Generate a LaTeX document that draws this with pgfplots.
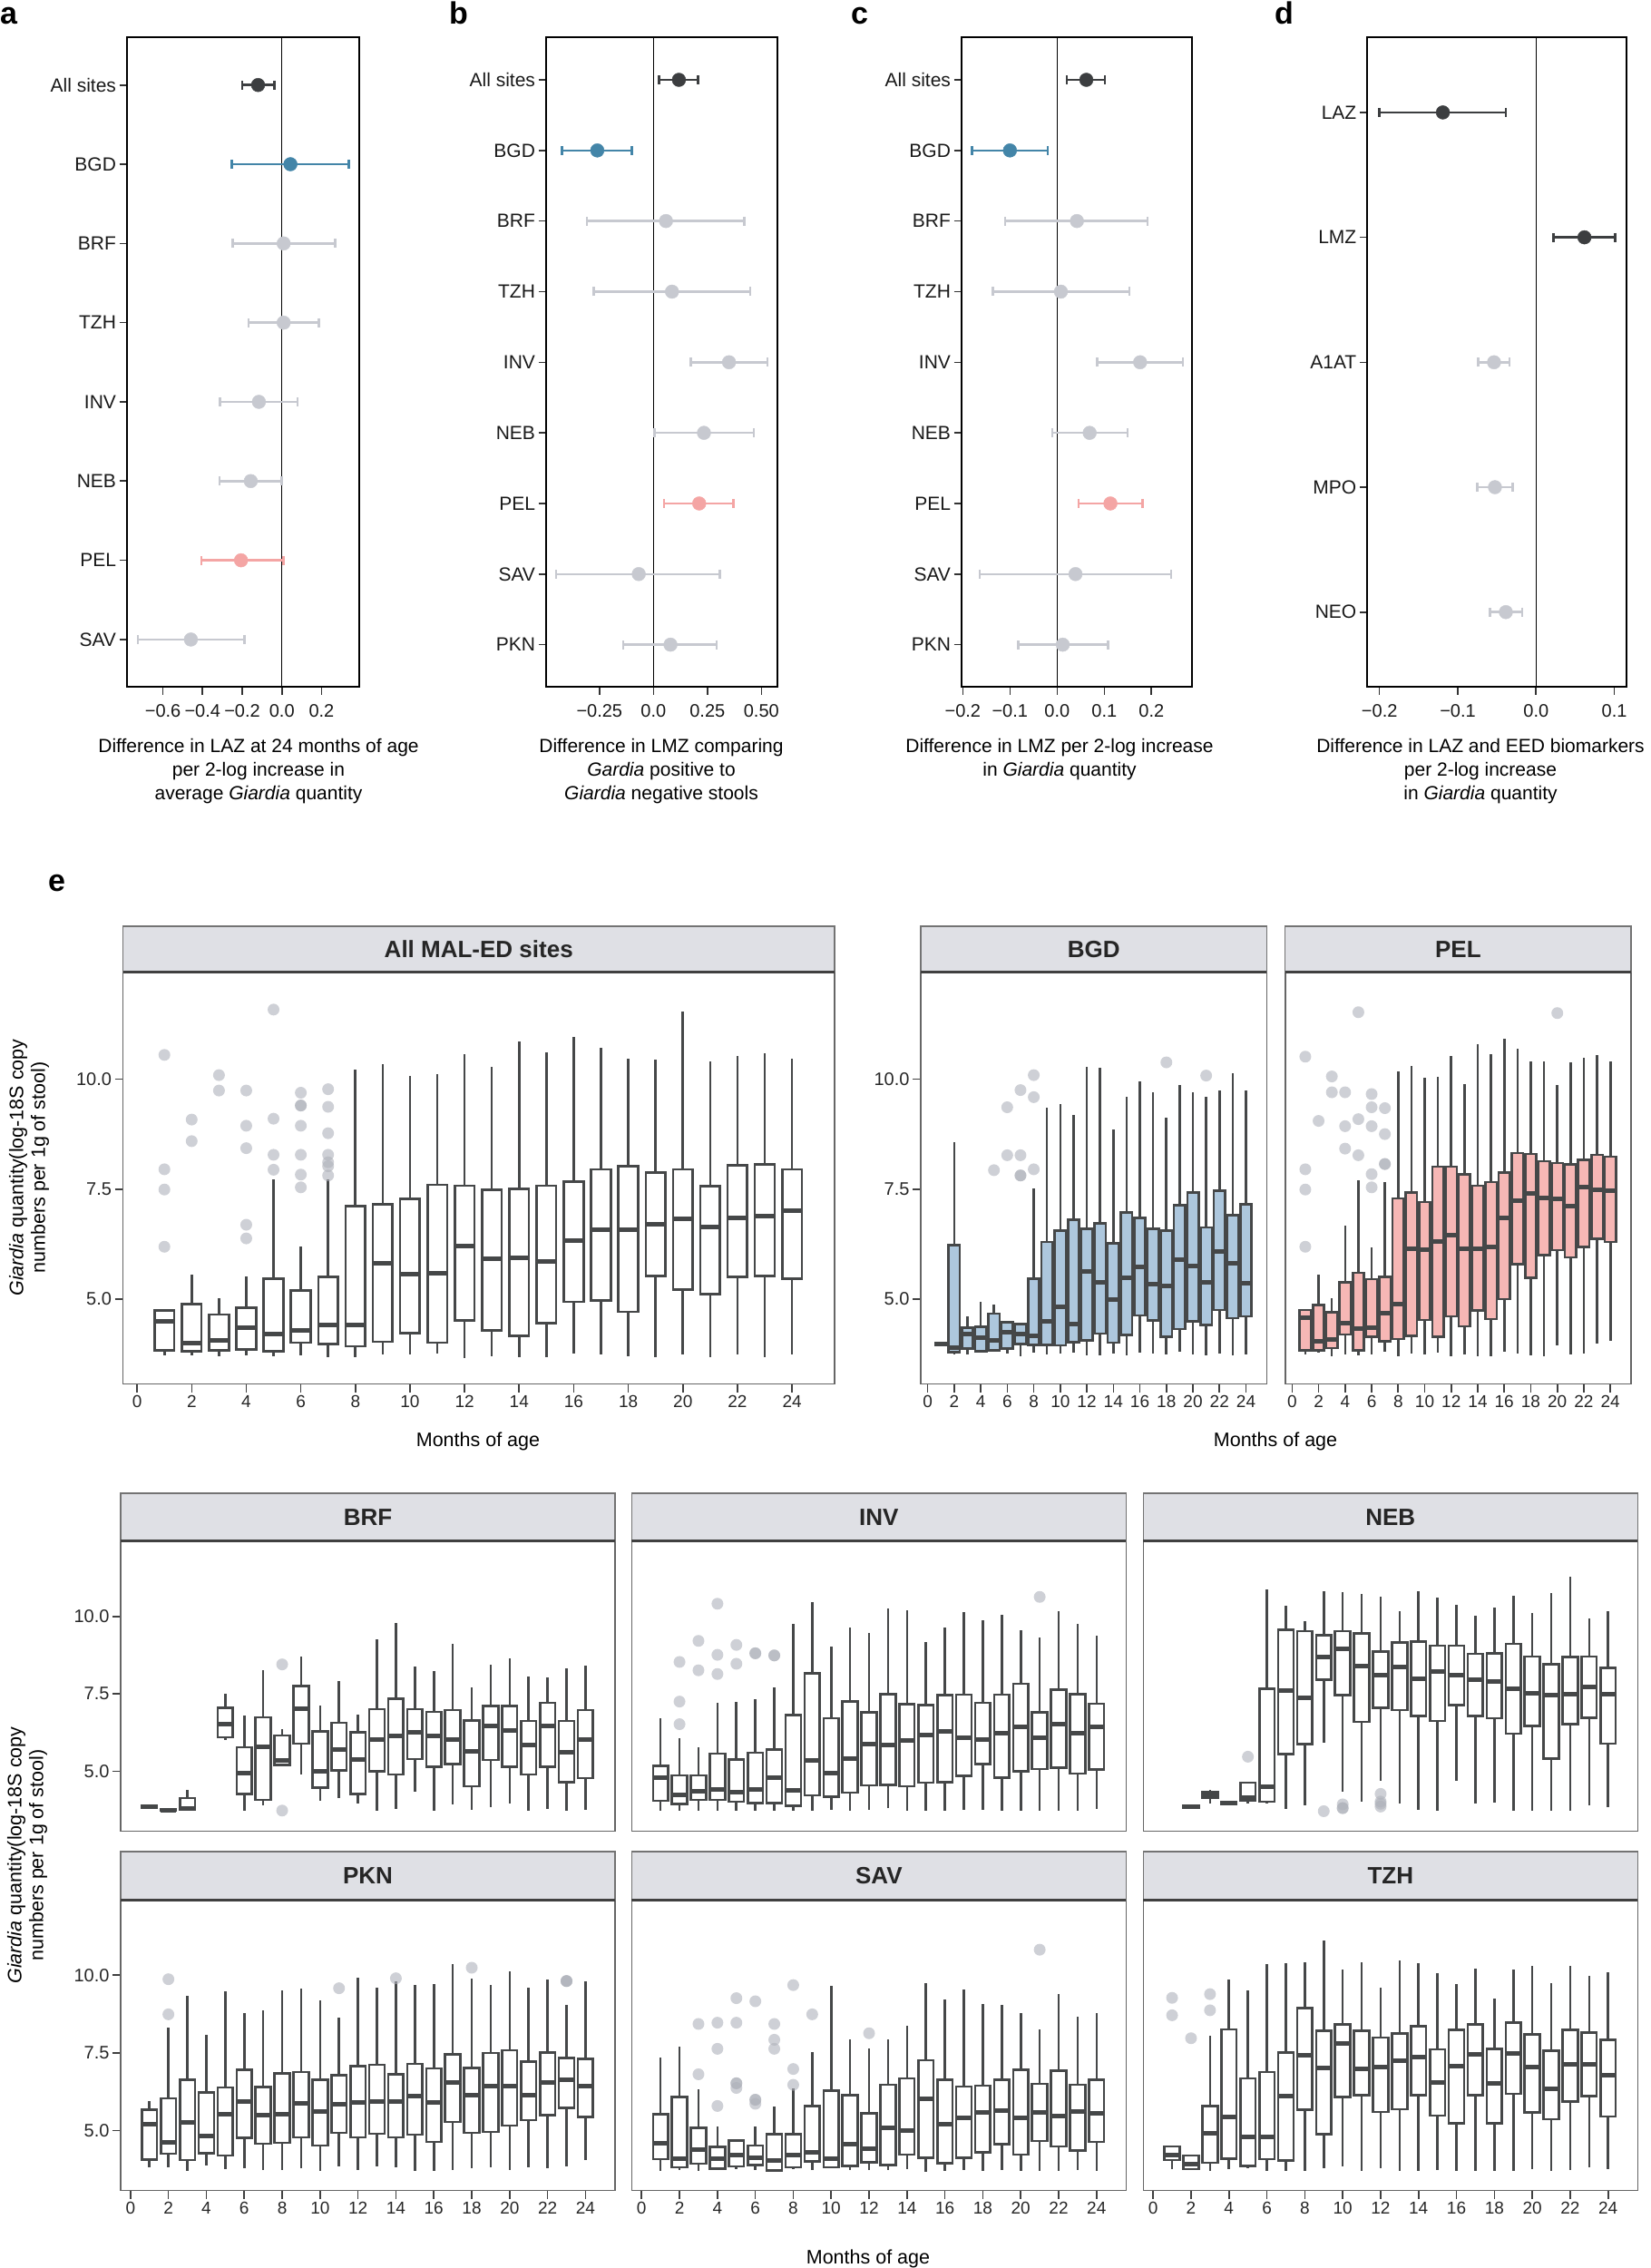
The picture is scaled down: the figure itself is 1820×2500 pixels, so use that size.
\documentclass[border=0pt]{standalone}
\usepackage{fontspec}
\setmainfont{Liberation Sans}
\usepackage{pgfplots}
\pgfplotsset{compat=1.18}
\usepgfplotslibrary{statistics}

\definecolor{dk}{HTML}{3C3E40}
\definecolor{bl}{HTML}{4385A8}
\definecolor{gr}{HTML}{C7C9D0}
\definecolor{pk}{HTML}{F4A5A4}
\definecolor{boxc}{HTML}{454748}
\definecolor{bgdf}{HTML}{ADC7DD}
\definecolor{pelf}{HTML}{F6B7B5}
\definecolor{outc}{HTML}{AEB1BA}
\definecolor{stripc}{HTML}{DFE0E5}
\colorlet{bxf}{white}

\newcommand\fs[1]{\fontsize{#1}{#1}\selectfont}
\def\bxw{0.72}
% one prepared box: position, lower whisker, q1, median, q3, upper whisker
\newcommand\BX[6]{\addplot[draw=boxc, fill=bxf, line width=2.6pt,
  boxplot prepared={draw direction=y, draw position=#1, lower whisker=#2, lower quartile=#3,
  median=#4, upper quartile=#5, upper whisker=#6, box extend=\bxw, whisker extend=0}] coordinates {};}
\newcommand\OL[1]{\addplot[only marks, color=outc, mark=*, mark size=6.5pt,
  mark options={draw opacity=0, fill=outc, fill opacity=0.6}] coordinates {#1};}
\newcommand\strip[5]{%
  \draw[fill=stripc, draw=black!55, line width=1.4pt] (#1,-#3) rectangle (#2,-#4);
  \draw[black!75, line width=3pt] (#1,-#4) -- (#2,-#4);
  \node[font=\bfseries\fs{26}, text=black!85] at ({(#1+#2)/2},{-(#3+#4)/2}) {#5};}

\pgfplotsset{
  forest/.style={
    scale only axis, anchor=north west, height=716pt,
    y dir=reverse, axis line style={line width=1.8pt, draw=black},
    tick align=outside, major tick length=8.5pt,
    tick style={line width=1.6pt, draw=black!80},
    xtick pos=left, ytick pos=left,
    xticklabel style={font=\fs{20}, text=black!90, yshift=-7pt},
    yticklabel style={font=\fs{21}, text=black!90},
    clip=false,
  },
  fpt/.style={only marks, mark=*, mark size=7.5pt, color=#1,
    mark options={draw=none, fill=#1},
    error bars/.cd, x dir=both, x explicit, error mark=|,
    error bar style={line width=2.5pt, color=#1},
    error mark options={mark size=5pt, line width=2.5pt, color=#1}},
  boxax/.style={
    scale only axis, anchor=north west,
    xmin=-0.52, xmax=25.56, ymin=3.07, ymax=12.43,
    axis line style={draw=black!60, line width=1.6pt},
    tick align=outside, major tick length=9pt,
    tick style={draw=black!75, line width=1.6pt},
    xtick pos=left, ytick pos=left,
    xtick={0,2,...,24}, xticklabels={0,2,4,6,8,10,12,14,16,18,20,22,24},
    ytick={5,7.5,10}, yticklabels={5.0,7.5,10.0},
    xticklabel style={font=\fs{19}, text=black!85},
    yticklabel style={font=\fs{20}, text=black!85},
    boxplot/every median/.style={line width=5pt},
  },
}

\begin{document}
\begin{tikzpicture}[x=1pt,y=1pt]
\useasboundingbox (0,0) rectangle (1820,-2500);

% ---------------- panel letters
\node[font=\bfseries\fs{34}, anchor=base west, inner sep=0] at (0,-26) {a};
\node[font=\bfseries\fs{34}, anchor=base west, inner sep=0] at (495,-27) {b};
\node[font=\bfseries\fs{34}, anchor=base west, inner sep=0] at (938,-27) {c};
\node[font=\bfseries\fs{34}, anchor=base west, inner sep=0] at (1405,-27) {d};
\node[font=\bfseries\fs{34}, anchor=base west, inner sep=0] at (53,-982) {e};

% ---------------- a
\begin{axis}[forest, at={(140pt,-41.3pt)}, width=256pt,
  xmin=-0.781, xmax=0.39, ymin=0.4, ymax=8.6,
  xtick={-0.6,-0.4,-0.2,0,0.2}, xticklabels={−0.6,−0.4,−0.2,0.0,0.2},
  ytick={1,...,8}, yticklabels={All sites,BGD,BRF,TZH,INV,NEB,PEL,SAV}]
\addplot[black, line width=1.3pt] coordinates {(0,0.4) (0,8.6)};
\addplot[fpt=gr] table[x=x, y=y, x error plus expr=\thisrow{hi}-\thisrow{x}, x error minus expr=\thisrow{x}-\thisrow{lo}] {
x y lo hi
0.009 3 -0.247 0.268
0.009 4 -0.168 0.187
-0.116 5 -0.311 0.080
-0.157 6 -0.314 0.0
-0.459 8 -0.727 -0.189
};
\addplot[fpt=pk] table[x=x, y=y, x error plus expr=\thisrow{hi}-\thisrow{x}, x error minus expr=\thisrow{x}-\thisrow{lo}] {
x y lo hi
-0.206 7 -0.405 0.009
};
\addplot[fpt=bl] table[x=x, y=y, x error plus expr=\thisrow{hi}-\thisrow{x}, x error minus expr=\thisrow{x}-\thisrow{lo}] {
x y lo hi
0.043 2 -0.253 0.337
};
\addplot[fpt=dk] table[x=x, y=y, x error plus expr=\thisrow{hi}-\thisrow{x}, x error minus expr=\thisrow{x}-\thisrow{lo}] {
x y lo hi
-0.12 1 -0.201 -0.037
};
\end{axis}

% ---------------- b
\begin{axis}[forest, at={(602pt,-41.3pt)}, width=254.7pt,
  xmin=-0.497, xmax=0.573, ymin=0.4, ymax=9.6,
  xtick={-0.25,0,0.25,0.5}, xticklabels={−0.25,0.0,0.25,0.50},
  ytick={1,...,9}, yticklabels={All sites,BGD,BRF,TZH,INV,NEB,PEL,SAV,PKN}]
\addplot[black, line width=1.3pt] coordinates {(0,0.4) (0,9.6)};
\addplot[fpt=gr] table[x=x, y=y, x error plus expr=\thisrow{hi}-\thisrow{x}, x error minus expr=\thisrow{x}-\thisrow{lo}] {
x y lo hi
0.058 3 -0.308 0.42
0.086 4 -0.277 0.448
0.35 5 0.172 0.528
0.234 6 0.006 0.464
-0.068 8 -0.45 0.308
0.079 9 -0.139 0.293
};
\addplot[fpt=pk] table[x=x, y=y, x error plus expr=\thisrow{hi}-\thisrow{x}, x error minus expr=\thisrow{x}-\thisrow{lo}] {
x y lo hi
0.212 7 0.049 0.371
};
\addplot[fpt=bl] table[x=x, y=y, x error plus expr=\thisrow{hi}-\thisrow{x}, x error minus expr=\thisrow{x}-\thisrow{lo}] {
x y lo hi
-0.26 2 -0.424 -0.099
};
\addplot[fpt=dk] table[x=x, y=y, x error plus expr=\thisrow{hi}-\thisrow{x}, x error minus expr=\thisrow{x}-\thisrow{lo}] {
x y lo hi
0.118 1 0.027 0.206
};
\end{axis}

% ---------------- c
\begin{axis}[forest, at={(1060pt,-41.3pt)}, width=254pt,
  xmin=-0.2025, xmax=0.286, ymin=0.4, ymax=9.6,
  xtick={-0.2,-0.1,0,0.1,0.2}, xticklabels={−0.2,−0.1,0.0,0.1,0.2},
  ytick={1,...,9}, yticklabels={All sites,BGD,BRF,TZH,INV,NEB,PEL,SAV,PKN}]
\addplot[black, line width=1.3pt] coordinates {(0,0.4) (0,9.6)};
\addplot[fpt=gr] table[x=x, y=y, x error plus expr=\thisrow{hi}-\thisrow{x}, x error minus expr=\thisrow{x}-\thisrow{lo}] {
x y lo hi
0.042 3 -0.11 0.192
0.008 4 -0.136 0.153
0.176 5 0.085 0.267
0.069 6 -0.01 0.149
0.039 8 -0.164 0.242
0.012 9 -0.082 0.108
};
\addplot[fpt=pk] table[x=x, y=y, x error plus expr=\thisrow{hi}-\thisrow{x}, x error minus expr=\thisrow{x}-\thisrow{lo}] {
x y lo hi
0.113 7 0.046 0.181
};
\addplot[fpt=bl] table[x=x, y=y, x error plus expr=\thisrow{hi}-\thisrow{x}, x error minus expr=\thisrow{x}-\thisrow{lo}] {
x y lo hi
-0.1 2 -0.18 -0.02
};
\addplot[fpt=dk] table[x=x, y=y, x error plus expr=\thisrow{hi}-\thisrow{x}, x error minus expr=\thisrow{x}-\thisrow{lo}] {
x y lo hi
0.062 1 0.021 0.101
};
\end{axis}

% ---------------- d
\begin{axis}[forest, at={(1507.3pt,-41.3pt)}, width=286pt,
  xmin=-0.2155, xmax=0.1159, ymin=0.4, ymax=5.6,
  xtick={-0.2,-0.1,0,0.1}, xticklabels={−0.2,−0.1,0.0,0.1},
  ytick={1,...,5}, yticklabels={LAZ,LMZ,A1AT,MPO,NEO}]
\addplot[black, line width=1.3pt] coordinates {(0,0.4) (0,5.6)};
\addplot[fpt=gr] table[x=x, y=y, x error plus expr=\thisrow{hi}-\thisrow{x}, x error minus expr=\thisrow{x}-\thisrow{lo}] {
x y lo hi
-0.0537 3 -0.074 -0.034
-0.0525 4 -0.0749 -0.030
-0.0386 5 -0.0587 -0.0177
};
\addplot[fpt=dk] table[x=x, y=y, x error plus expr=\thisrow{hi}-\thisrow{x}, x error minus expr=\thisrow{x}-\thisrow{lo}] {
x y lo hi
-0.119 1 -0.2 -0.0386
0.0618 2 0.022 0.1008
};
\end{axis}

% forest axis titles
\begin{scope}[every node/.style={font=\fs{21}, anchor=base, inner sep=0}]
\node at (285,-829) {Difference in LAZ at 24 months of age};
\node at (285,-855) {per 2-log increase in};
\node at (285,-881) {average \textit{Giardia} quantity};
\node at (729,-829) {Difference in LMZ comparing};
\node at (729,-855) {\textit{Gardia} positive to};
\node at (729,-881) {\textit{Giardia} negative stools};
\node at (1168,-829) {Difference in LMZ per 2-log increase};
\node at (1168,-855) {in \textit{Giardia} quantity};
\node at (1632,-829) {Difference in LAZ and EED biomarkers};
\node at (1632,-855) {per 2-log increase};
\node at (1632,-881) {in \textit{Giardia} quantity};
\end{scope}

% ---------------- e: All MAL-ED sites
\colorlet{bxf}{white}\def\bxw{0.72}
\begin{axis}[boxax, at={(135.5pt,-1071.6pt)}, width=784.5pt, height=454pt]
\OL{(1,10.55)(1,7.95)(1,7.49)(1,6.19)(2,9.08)(2,8.59)(3,10.09)(3,9.74)(4,9.74)(4,8.94)(4,8.43)(4,6.69)(4,6.38)(5,11.58)(5,9.10)(5,8.28)(5,7.94)(6,9.69)(6,9.40)(6,9.40)(6,8.94)(6,8.28)(6,7.83)(6,7.54)(7,9.77)(7,9.37)(7,8.77)(7,8.28)(7,8.11)(7,8.02)(7,7.81)}
\BX{1}{3.72}{3.83}{4.50}{4.74}{4.74}
\BX{2}{3.72}{3.81}{3.99}{4.89}{5.55}
\BX{3}{3.71}{3.83}{4.06}{4.65}{5.02}
\BX{4}{3.72}{3.85}{4.36}{4.80}{5.51}
\BX{5}{3.71}{3.81}{4.20}{5.46}{7.73}
\BX{6}{3.72}{4.01}{4.29}{5.19}{6.19}
\BX{7}{3.68}{3.98}{4.41}{5.51}{7.73}
\BX{8}{3.68}{3.93}{4.42}{7.11}{10.21}
\BX{9}{3.74}{4.03}{5.81}{7.16}{10.34}
\BX{10}{3.74}{4.23}{5.56}{7.28}{10.07}
\BX{11}{3.77}{4.01}{5.59}{7.60}{10.11}
\BX{12}{3.66}{4.51}{6.21}{7.58}{10.56}
\BX{13}{3.71}{4.29}{5.91}{7.48}{10.28}
\BX{14}{3.68}{4.16}{5.94}{7.51}{10.85}
\BX{15}{3.68}{4.45}{5.85}{7.58}{10.61}
\BX{16}{3.77}{4.94}{6.32}{7.67}{10.96}
\BX{17}{3.74}{4.97}{6.58}{7.95}{10.72}
\BX{18}{3.71}{4.71}{6.58}{8.02}{10.46}
\BX{19}{3.68}{5.53}{6.70}{7.88}{10.44}
\BX{20}{3.74}{5.22}{6.82}{7.95}{11.53}
\BX{21}{3.68}{5.11}{6.63}{7.57}{10.41}
\BX{22}{3.74}{5.51}{6.85}{8.04}{10.52}
\BX{23}{3.68}{5.52}{6.89}{8.06}{10.59}
\BX{24}{3.74}{5.46}{7.02}{7.95}{10.46}
\end{axis}
\strip{135.5}{920}{1021}{1071.6}{All MAL-ED sites}

% ---------------- BGD
\colorlet{bxf}{bgdf}\def\bxw{0.85}
\begin{axis}[boxax, at={(1015pt,-1071.6pt)}, width=381.3pt, height=454pt]
\OL{(5,7.93)(6,9.36)(6,8.27)(7,9.75)(7,8.27)(7,7.81)(7,7.81)(8,10.09)(8,9.59)(8,7.95)(18,10.38)(21,10.08)}
\BX{1}{3.96}{3.96}{3.98}{4.00}{4.00}
\BX{2}{3.75}{3.79}{3.89}{6.23}{8.57}
\BX{3}{3.75}{3.88}{4.21}{4.35}{4.61}
\BX{4}{3.79}{3.82}{4.12}{4.37}{4.94}
\BX{5}{3.81}{3.84}{4.07}{4.67}{4.87}
\BX{6}{3.77}{3.88}{4.24}{4.48}{4.48}
\BX{7}{3.71}{3.98}{4.20}{4.43}{4.43}
\BX{8}{3.79}{3.96}{4.16}{5.47}{7.52}
\BX{9}{3.75}{3.96}{4.49}{6.30}{9.35}
\BX{10}{3.77}{3.95}{4.82}{6.56}{9.43}
\BX{11}{3.79}{4.02}{4.43}{6.81}{9.18}
\BX{12}{3.73}{4.06}{5.62}{6.60}{10.27}
\BX{13}{3.73}{4.22}{5.39}{6.72}{10.25}
\BX{14}{3.77}{4.01}{5.00}{6.27}{8.85}
\BX{15}{3.73}{4.18}{5.48}{6.97}{9.59}
\BX{16}{3.79}{4.63}{5.74}{6.84}{9.95}
\BX{17}{3.77}{4.52}{5.35}{6.60}{9.70}
\BX{18}{3.75}{4.14}{5.29}{6.56}{9.13}
\BX{19}{3.81}{4.32}{5.90}{7.13}{9.86}
\BX{20}{3.75}{4.49}{5.76}{7.42}{9.70}
\BX{21}{3.73}{4.41}{5.39}{6.63}{9.59}
\BX{22}{3.77}{4.75}{6.09}{7.46}{9.74}
\BX{23}{3.73}{4.57}{5.82}{6.91}{10.13}
\BX{24}{3.75}{4.61}{5.37}{7.15}{9.74}
\end{axis}
\strip{1015}{1396.3}{1021}{1071.6}{BGD}

% ---------------- PEL
\colorlet{bxf}{pelf}
\begin{axis}[boxax, at={(1416.7pt,-1071.6pt)}, width=381.3pt, height=454pt, ytick=\empty]
\OL{(1,10.51)(1,7.95)(1,7.49)(1,6.19)(2,9.05)(3,10.06)(3,9.70)(4,9.70)(4,8.93)(4,8.42)(5,11.52)(5,9.09)(5,8.27)(6,9.66)(6,9.36)(6,8.93)(6,7.84)(6,7.54)(7,9.34)(7,8.75)(7,8.07)(7,8.07)(20,11.50)}
\BX{1}{3.75}{3.84}{4.57}{4.75}{4.75}
\BX{2}{3.79}{3.84}{4.04}{4.86}{5.55}
\BX{3}{3.71}{3.89}{4.09}{4.70}{5.02}
\BX{4}{3.75}{4.20}{4.45}{5.38}{6.68}
\BX{5}{3.73}{3.83}{4.34}{5.60}{7.71}
\BX{6}{3.75}{4.14}{4.35}{5.45}{6.17}
\BX{7}{3.81}{4.04}{4.69}{5.51}{7.66}
\BX{8}{3.71}{4.09}{4.88}{7.29}{10.17}
\BX{9}{3.77}{4.16}{6.15}{7.42}{10.30}
\BX{10}{3.75}{4.53}{6.13}{7.21}{10.04}
\BX{11}{3.79}{4.14}{6.30}{8.01}{10.06}
\BX{12}{3.71}{4.61}{6.45}{8.01}{10.53}
\BX{13}{3.75}{4.38}{6.15}{7.84}{9.88}
\BX{14}{3.71}{4.74}{6.15}{7.58}{10.80}
\BX{15}{3.71}{4.55}{6.19}{7.66}{10.56}
\BX{16}{3.81}{5.00}{6.85}{7.87}{10.91}
\BX{17}{3.77}{5.80}{7.24}{8.32}{10.68}
\BX{18}{3.73}{5.48}{7.40}{8.30}{10.41}
\BX{19}{3.71}{6.00}{7.29}{8.13}{10.41}
\BX{20}{3.95}{6.11}{7.27}{8.09}{9.86}
\BX{21}{3.75}{5.95}{7.11}{8.06}{10.38}
\BX{22}{3.77}{6.19}{7.55}{8.16}{10.49}
\BX{23}{3.98}{6.37}{7.48}{8.28}{10.55}
\BX{24}{4.06}{6.30}{7.46}{8.24}{10.41}
\end{axis}
\strip{1416.7}{1798}{1021}{1071.6}{PEL}

% ---------------- BRF
\colorlet{bxf}{white}\def\bxw{0.8}
\begin{axis}[boxax, at={(133pt,-1698.8pt)}, width=545pt, height=319.5pt, xtick=\empty]
\OL{(8,8.45)(8,3.73)}
\BX{1}{3.83}{3.83}{3.86}{3.89}{3.89}
\BX{2}{3.72}{3.72}{3.74}{3.77}{3.77}
\BX{3}{3.76}{3.76}{3.81}{4.13}{4.39}
\BX{5}{6.01}{6.10}{6.52}{7.05}{7.51}
\BX{6}{3.71}{4.27}{4.95}{5.77}{6.79}
\BX{7}{3.89}{4.08}{5.78}{6.74}{8.26}
\BX{8}{5.21}{5.21}{5.36}{6.15}{6.35}
\BX{9}{4.90}{5.89}{7.02}{7.76}{8.69}
\BX{10}{4.05}{4.47}{4.99}{6.28}{7.13}
\BX{11}{4.12}{5.02}{5.70}{6.57}{7.90}
\BX{12}{3.96}{4.27}{5.38}{6.25}{6.83}
\BX{13}{3.71}{4.99}{6.01}{7.00}{9.25}
\BX{14}{3.79}{4.89}{6.13}{7.34}{9.79}
\BX{15}{4.34}{5.39}{6.25}{7.00}{8.38}
\BX{16}{3.71}{5.14}{6.13}{6.92}{8.24}
\BX{17}{3.93}{5.24}{6.02}{6.98}{9.11}
\BX{18}{3.76}{4.51}{5.65}{6.64}{7.70}
\BX{19}{3.83}{5.36}{6.47}{7.10}{8.45}
\BX{20}{3.96}{5.15}{6.32}{7.10}{8.65}
\BX{21}{3.71}{4.89}{5.84}{6.62}{8.05}
\BX{22}{3.79}{5.15}{6.45}{7.21}{8.02}
\BX{23}{3.71}{4.65}{5.60}{6.63}{8.31}
\BX{24}{3.76}{4.78}{6.02}{6.98}{8.40}
\end{axis}
\strip{133}{678}{1646}{1698.8}{BRF}

% ---------------- INV
\begin{axis}[boxax, at={(696.4pt,-1698.8pt)}, width=545pt, height=319.5pt, xtick=\empty, ytick=\empty]
\OL{(2,8.53)(2,7.25)(2,6.52)(3,9.21)(3,8.26)(4,10.41)(4,8.76)(4,8.14)(5,9.08)(5,8.47)(6,8.81)(6,8.81)(7,8.74)(7,8.74)(21,10.63)}
\BX{1}{3.73}{4.05}{4.78}{5.18}{6.71}
\BX{2}{3.73}{3.94}{4.25}{4.87}{6.06}
\BX{3}{3.71}{4.07}{4.34}{4.87}{5.76}
\BX{4}{3.71}{4.07}{4.41}{5.57}{7.20}
\BX{5}{3.73}{4.02}{4.31}{5.38}{7.24}
\BX{6}{3.71}{3.98}{4.41}{5.60}{7.34}
\BX{7}{3.71}{3.98}{4.78}{5.70}{7.71}
\BX{8}{3.73}{3.89}{4.39}{6.81}{9.76}
\BX{9}{3.71}{4.22}{5.34}{8.16}{10.45}
\BX{10}{3.76}{4.17}{4.95}{6.71}{9.03}
\BX{11}{3.71}{4.31}{5.41}{7.26}{9.64}
\BX{12}{3.76}{4.54}{5.87}{6.91}{9.47}
\BX{13}{3.81}{4.56}{5.84}{7.49}{10.27}
\BX{14}{3.71}{4.52}{5.99}{7.17}{10.19}
\BX{15}{3.73}{4.63}{6.16}{7.13}{9.18}
\BX{16}{3.73}{4.65}{6.28}{7.46}{9.63}
\BX{17}{3.76}{4.85}{6.08}{7.47}{10.15}
\BX{18}{3.76}{5.24}{6.03}{7.21}{9.87}
\BX{19}{3.71}{4.80}{6.23}{7.47}{10.05}
\BX{20}{3.71}{4.99}{6.42}{7.82}{9.56}
\BX{21}{3.73}{5.07}{6.08}{6.91}{9.32}
\BX{22}{3.71}{5.12}{6.52}{7.63}{10.17}
\BX{23}{3.71}{4.92}{6.23}{7.49}{9.76}
\BX{24}{3.79}{5.05}{6.42}{7.18}{9.37}
\end{axis}
\strip{696.4}{1241.4}{1646}{1698.8}{INV}

% ---------------- NEB
\begin{axis}[boxax, at={(1260.3pt,-1698.8pt)}, width=545pt, height=319.5pt, xtick=\empty, ytick=\empty]
\OL{(5,5.47)(9,3.71)(10,3.93)(10,3.81)(10,3.81)(12,4.27)(12,4.02)(12,3.95)(12,3.86)}
\BX{2}{3.83}{3.83}{3.86}{3.89}{3.89}
\BX{3}{3.96}{4.15}{4.25}{4.34}{4.39}
\BX{4}{3.95}{3.95}{3.98}{4.02}{4.02}
\BX{5}{3.96}{4.05}{4.15}{4.63}{4.63}
\BX{6}{3.96}{4.02}{4.49}{7.66}{10.87}
\BX{7}{3.79}{5.55}{7.60}{9.56}{10.34}
\BX{8}{3.91}{5.87}{7.37}{9.52}{9.85}
\BX{9}{5.91}{7.95}{8.69}{9.39}{10.82}
\BX{10}{4.34}{7.46}{8.96}{9.52}{10.77}
\BX{11}{4.02}{6.60}{8.40}{9.45}{10.74}
\BX{12}{4.68}{7.05}{8.09}{8.87}{10.65}
\BX{13}{3.96}{6.98}{8.36}{9.15}{10.16}
\BX{14}{3.76}{6.79}{7.99}{9.18}{10.82}
\BX{15}{3.73}{6.62}{8.21}{9.06}{10.61}
\BX{16}{4.70}{7.13}{8.09}{9.06}{10.37}
\BX{17}{3.96}{6.79}{7.97}{8.79}{10.02}
\BX{18}{3.98}{6.71}{7.89}{8.81}{10.29}
\BX{19}{3.71}{6.21}{7.65}{9.11}{10.66}
\BX{20}{3.71}{6.47}{7.51}{8.71}{10.10}
\BX{21}{3.71}{5.41}{7.46}{8.45}{10.75}
\BX{22}{3.71}{6.52}{7.50}{8.69}{11.28}
\BX{23}{3.89}{6.73}{7.73}{8.71}{9.93}
\BX{24}{3.83}{5.89}{7.50}{8.33}{10.16}
\end{axis}
\strip{1260.3}{1805.3}{1646}{1698.8}{NEB}

% ---------------- PKN
\begin{axis}[boxax, at={(133pt,-2094pt)}, width=545pt, height=320.5pt]
\OL{(2,9.87)(2,8.74)(11,9.58)(14,9.90)(18,10.24)(23,9.81)(23,9.81)(23,9.81)}
\BX{1}{3.81}{4.07}{5.21}{5.67}{5.96}
\BX{2}{3.83}{4.25}{4.63}{6.03}{8.31}
\BX{3}{3.71}{4.05}{5.26}{6.64}{9.34}
\BX{4}{3.86}{4.26}{4.83}{6.23}{8.09}
\BX{5}{3.76}{4.20}{5.52}{6.39}{9.49}
\BX{6}{3.79}{4.76}{5.92}{6.95}{8.77}
\BX{7}{3.74}{4.58}{5.50}{6.40}{8.86}
\BX{8}{3.74}{4.60}{5.52}{6.83}{9.52}
\BX{9}{3.79}{4.78}{5.86}{6.88}{9.56}
\BX{10}{3.71}{4.52}{5.60}{6.63}{9.18}
\BX{11}{3.84}{4.92}{5.84}{6.78}{8.62}
\BX{12}{3.74}{4.78}{5.89}{7.08}{9.92}
\BX{13}{3.84}{4.90}{5.92}{7.12}{9.61}
\BX{14}{3.81}{4.78}{5.92}{6.81}{9.79}
\BX{15}{3.71}{4.87}{6.10}{7.15}{9.69}
\BX{16}{3.71}{4.63}{5.89}{7.00}{9.71}
\BX{17}{3.74}{5.28}{6.54}{7.46}{10.37}
\BX{18}{3.78}{4.92}{6.13}{7.02}{9.88}
\BX{19}{3.83}{4.95}{6.44}{7.49}{9.68}
\BX{20}{3.73}{5.16}{6.42}{7.58}{10.12}
\BX{21}{3.83}{5.33}{6.13}{7.22}{9.61}
\BX{22}{3.79}{5.50}{6.55}{7.51}{9.87}
\BX{23}{3.84}{5.72}{6.62}{7.34}{9.05}
\BX{24}{4.05}{5.43}{6.42}{7.31}{9.79}
\end{axis}
\strip{133}{678}{2041}{2094}{PKN}

% ---------------- SAV
\begin{axis}[boxax, at={(696.4pt,-2094pt)}, width=545pt, height=320.5pt, ytick=\empty]
\OL{(3,8.43)(3,6.81)(4,8.47)(4,7.63)(4,5.79)(5,9.26)(5,8.47)(5,6.52)(5,6.52)(5,6.37)(6,9.16)(6,5.99)(6,5.99)(6,5.86)(7,8.43)(7,7.92)(7,7.63)(8,9.68)(8,6.98)(8,6.47)(9,8.74)(12,8.13)(21,10.82)}
\BX{1}{3.71}{4.08}{4.58}{5.53}{7.36}
\BX{2}{3.73}{3.81}{4.10}{6.08}{7.70}
\BX{3}{3.71}{3.93}{4.39}{5.09}{6.34}
\BX{4}{3.73}{3.78}{4.10}{4.47}{5.14}
\BX{5}{3.76}{3.84}{4.20}{4.68}{4.68}
\BX{6}{3.73}{3.89}{4.12}{4.52}{5.14}
\BX{7}{3.71}{3.71}{4.03}{4.89}{5.77}
\BX{8}{3.76}{3.81}{4.20}{4.89}{6.37}
\BX{9}{3.73}{4.00}{4.31}{5.79}{7.51}
\BX{10}{3.78}{3.81}{4.10}{6.28}{9.66}
\BX{11}{3.74}{3.86}{4.56}{6.13}{7.94}
\BX{12}{3.74}{3.97}{4.42}{5.55}{7.63}
\BX{13}{3.73}{3.88}{5.09}{6.47}{7.94}
\BX{14}{3.76}{4.23}{4.99}{6.68}{8.38}
\BX{15}{3.68}{4.13}{6.01}{7.26}{9.73}
\BX{16}{3.71}{3.94}{5.21}{6.64}{9.23}
\BX{17}{3.74}{4.13}{5.41}{6.42}{9.55}
\BX{18}{3.71}{4.29}{5.58}{6.44}{9.06}
\BX{19}{3.73}{4.56}{5.65}{6.63}{9.03}
\BX{20}{3.71}{4.22}{5.41}{6.95}{8.79}
\BX{21}{3.71}{4.66}{5.57}{6.50}{8.24}
\BX{22}{3.71}{4.49}{5.47}{6.92}{9.39}
\BX{23}{3.73}{4.36}{5.60}{6.47}{8.67}
\BX{24}{3.71}{4.63}{5.55}{6.63}{8.77}
\end{axis}
\strip{696.4}{1241.4}{2041}{2094}{SAV}

% ---------------- TZH
\begin{axis}[boxax, at={(1260.3pt,-2094pt)}, width=545pt, height=320.5pt, ytick=\empty]
\OL{(1,9.27)(1,8.71)(2,7.97)(3,9.39)(3,8.87)}
\BX{1}{3.76}{4.05}{4.20}{4.49}{4.49}
\BX{2}{3.73}{3.76}{3.91}{4.20}{4.20}
\BX{3}{3.71}{3.96}{4.92}{5.79}{8.05}
\BX{4}{3.76}{4.10}{5.45}{8.26}{9.85}
\BX{5}{3.78}{3.86}{4.78}{6.68}{9.52}
\BX{6}{3.71}{4.08}{4.80}{6.88}{10.36}
\BX{7}{3.71}{4.03}{6.10}{7.51}{10.39}
\BX{8}{3.71}{5.67}{7.42}{8.94}{10.42}
\BX{9}{3.78}{4.89}{7.00}{8.21}{11.13}
\BX{10}{3.84}{6.08}{7.80}{8.42}{10.19}
\BX{11}{3.71}{6.13}{6.98}{8.21}{10.41}
\BX{12}{3.79}{5.60}{7.05}{7.99}{9.59}
\BX{13}{3.71}{5.68}{7.26}{8.13}{10.48}
\BX{14}{3.71}{6.13}{7.36}{8.36}{10.39}
\BX{15}{3.74}{5.48}{6.55}{7.61}{10.07}
\BX{16}{3.71}{5.23}{7.08}{8.24}{9.71}
\BX{17}{3.71}{6.13}{7.44}{8.42}{10.21}
\BX{18}{3.71}{5.24}{6.52}{7.63}{9.25}
\BX{19}{3.71}{6.18}{7.49}{8.48}{10.17}
\BX{20}{3.76}{5.58}{7.05}{8.09}{10.29}
\BX{21}{3.71}{5.36}{6.34}{7.57}{9.73}
\BX{22}{3.74}{5.94}{7.12}{8.24}{10.29}
\BX{23}{3.81}{6.10}{7.12}{8.16}{9.98}
\BX{24}{3.76}{5.45}{6.78}{7.92}{10.08}
\end{axis}
\strip{1260.3}{1805.3}{2041}{2094}{TZH}

% panel e axis titles
\begin{scope}[every node/.style={font=\fs{21.5}, inner sep=0}]
\node[anchor=base] at (527,-1594) {Months of age};
\node[anchor=base] at (1406,-1594) {Months of age};
\node[anchor=base] at (957,-2495) {Months of age};
\node[rotate=90, align=center, font=\fontsize{21.5}{24}\selectfont] at (32,-1287) {\textit{Giardia} quantity(log-18S copy\\numbers per 1g of stool)};
\node[rotate=90, align=center, font=\fontsize{21.5}{24}\selectfont] at (30,-2045) {\textit{Giardia} quantity(log-18S copy\\numbers per 1g of stool)};
\end{scope}
\end{tikzpicture}
\end{document}
